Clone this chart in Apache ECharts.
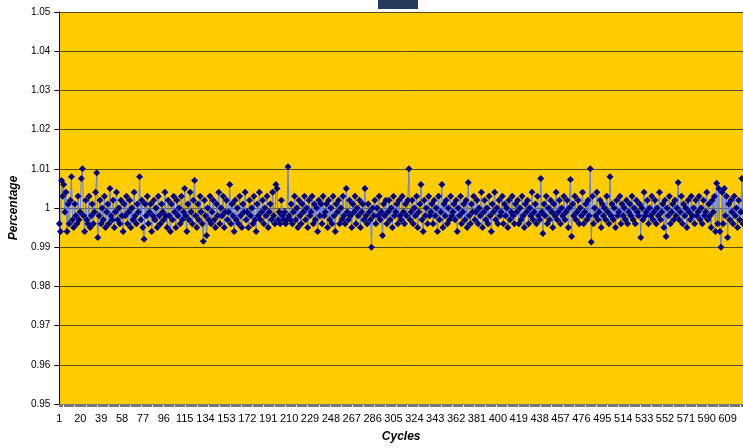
<!DOCTYPE html>
<html>
<head>
<meta charset="utf-8">
<script src="https://cdn.jsdelivr.net/npm/echarts@6/dist/echarts.min.js"></script>
<style>
  html, body { margin: 0; padding: 0; background: #ffffff; }
  #main { width: 743px; height: 448px; }
</style>
</head>
<body>
<div id="main"></div>
<script>
// values, one per cycle
var percentValues = [
  0.996, 0.994, 1.007, 1.003, 1.006, 0.999, 1.004, 0.994, 1.001, 0.996, 1.002, 1.008, 0.997, 0.995, 1.001, 0.998, 0.996, 1.003, 0.997, 0.999,
  1.0075, 1.010, 0.998, 0.994, 1.002, 0.997, 0.996, 1.003, 0.995, 0.998, 1.001, 0.996, 0.999, 1.004, 1.009, 0.9925, 0.998, 1.002, 0.996, 1.000,
  0.997, 1.003, 0.995, 0.999, 1.001, 0.996, 1.005, 0.998, 0.997, 1.002, 0.995, 0.999, 1.004, 0.997, 1.000, 0.996, 1.002, 0.998, 0.994, 1.001,
  0.998, 1.003, 0.996, 0.999, 1.002, 0.995, 1.000, 0.997, 1.004, 0.998, 0.996, 1.001, 0.999, 1.008, 0.997, 1.002, 0.995, 0.992, 1.001, 0.998,
  1.003, 0.996, 0.999, 1.001, 0.994, 0.998, 1.002, 0.997, 1.000, 0.995, 1.003, 0.998, 0.996, 1.001, 0.999, 0.997, 1.004, 0.998, 0.995, 1.002,
  0.998, 0.994, 1.001, 0.997, 1.003, 0.999, 0.995, 1.002, 0.998, 1.000, 0.996, 1.003, 0.997, 0.999, 1.005, 0.998, 0.994, 1.001, 0.997, 1.004,
  0.999, 0.996, 1.002, 1.007, 0.998, 0.995, 1.001, 0.997, 1.003, 0.999, 0.996, 0.9915, 1.002, 0.998, 0.993, 1.000, 0.997, 1.003, 0.996, 0.999,
  1.002, 0.997, 0.995, 1.001, 0.998, 1.004, 0.996, 1.000, 0.998, 1.003, 0.995, 0.999, 1.002, 0.997, 0.999, 1.006, 0.996, 1.001, 0.998, 0.994,
  1.002, 0.997, 1.000, 0.996, 1.003, 0.998, 0.995, 1.001, 0.999, 1.004, 0.997, 0.999, 0.995, 1.002, 0.998, 1.000, 0.996, 1.003, 0.997, 0.994,
  1.001, 0.998, 1.004, 0.997, 0.999, 1.002, 0.996, 1.000, 0.998, 1.003, 0.995, 0.999, 1.001, 0.997, 1.004, 0.998, 0.996, 1.006, 1.005, 0.997,
  0.999, 0.996, 1.002, 0.998, 0.997, 0.999, 0.996, 0.997, 1.0105, 0.998, 0.997, 1.001, 0.996, 0.999, 1.003, 0.997, 1.000, 0.995, 1.002, 0.998,
  0.996, 1.001, 0.999, 1.003, 0.997, 1.000, 0.995, 1.002, 0.998, 0.999, 1.003, 0.996, 1.001, 0.997, 1.000, 0.994, 1.002, 0.998, 1.001, 0.996,
  1.003, 0.998, 0.999, 1.001, 0.995, 1.002, 0.997, 1.000, 0.996, 1.003, 0.998, 0.994, 1.001, 0.999, 1.002, 0.996, 1.000, 0.997, 1.003, 0.998,
  0.996, 1.005, 0.999, 0.997, 1.002, 0.998, 0.995, 1.001, 0.999, 1.003, 0.996, 1.000, 0.998, 1.002, 0.995, 0.999, 1.001, 0.997, 1.005, 0.998,
  0.996, 1.001, 0.999, 0.997, 0.990, 1.000, 0.998, 1.002, 0.996, 1.000, 0.998, 1.003, 0.997, 0.999, 0.993, 1.001, 0.998, 1.002, 0.996, 0.999,
  1.002, 0.997, 1.000, 0.995, 1.003, 0.998, 0.999, 1.001, 0.996, 1.002, 0.998, 0.997, 1.003, 0.999, 0.996, 1.001, 0.998, 1.002, 1.010, 0.997,
  0.999, 1.002, 0.996, 1.000, 0.998, 1.003, 0.995, 0.999, 1.001, 1.006, 0.997, 0.994, 1.002, 0.998, 1.000, 0.996, 1.003, 0.998, 0.999, 1.001,
  0.996, 1.002, 0.998, 1.000, 0.994, 1.003, 0.997, 0.999, 1.006, 0.995, 1.001, 0.998, 1.002, 0.996, 1.000, 0.997, 1.003, 0.998, 0.999, 1.001,
  0.997, 1.002, 0.994, 1.000, 0.998, 1.003, 0.996, 0.999, 1.001, 0.997, 1.002, 0.995, 1.0065, 0.998, 0.996, 1.001, 0.999, 1.003, 0.997, 0.999,
  1.002, 0.996, 1.000, 0.998, 1.004, 0.995, 0.999, 1.002, 0.997, 1.000, 0.996, 1.003, 0.998, 0.994, 1.001, 0.999, 1.004, 0.997, 1.000, 0.996,
  1.002, 0.998, 0.999, 1.003, 0.996, 1.001, 0.998, 1.000, 0.995, 1.002, 0.997, 0.999, 1.003, 0.998, 0.996, 1.001, 0.999, 1.002, 0.996, 1.000,
  0.997, 1.003, 0.998, 0.995, 1.001, 0.999, 1.002, 0.996, 1.000, 0.998, 1.004, 0.997, 0.999, 1.001, 0.996, 1.003, 0.998, 0.997, 1.0075, 0.999,
  0.9935, 1.001, 0.998, 1.003, 0.996, 1.000, 0.997, 1.002, 0.999, 0.995, 1.001, 0.998, 1.004, 0.997, 0.999, 1.002, 0.996, 1.000, 0.998, 1.003,
  0.997, 0.999, 1.002, 0.995, 1.000, 1.0073, 0.9927, 1.001, 0.998, 1.003, 0.997, 0.999, 1.002, 0.996, 1.000, 0.998, 1.004, 0.996, 0.999, 1.001,
  0.997, 1.002, 0.998, 1.010, 0.9913, 1.003, 0.996, 1.000, 0.998, 1.004, 0.997, 0.999, 1.002, 0.995, 1.001, 0.998, 1.000, 0.997, 1.003, 0.999,
  0.996, 1.008, 0.998, 1.001, 0.997, 1.000, 0.995, 1.002, 0.998, 0.999, 1.003, 0.996, 1.001, 0.998, 1.000, 0.997, 1.002, 0.996, 0.999, 1.001,
  0.998, 1.003, 0.997, 1.000, 0.996, 1.002, 0.999, 0.998, 1.001, 0.9925, 1.000, 0.997, 1.004, 0.998, 0.999, 1.002, 0.996, 1.000, 0.998, 1.003,
  0.997, 0.999, 1.002, 0.996, 1.000, 0.998, 1.004, 0.997, 0.999, 1.001, 0.995, 1.002, 0.9927, 1.000, 0.998, 1.003, 0.996, 0.999, 1.001, 0.997,
  1.002, 0.998, 1.000, 1.0065, 0.997, 0.999, 1.003, 0.996, 1.001, 0.998, 1.000, 0.995, 1.002, 0.999, 0.997, 1.003, 0.998, 1.000, 0.996, 1.002,
  0.998, 0.999, 1.003, 0.997, 1.000, 0.996, 1.002, 0.998, 0.999, 1.004, 0.997, 1.001, 0.998, 0.995, 1.002, 0.999, 1.003, 0.994, 1.0063, 0.996,
  1.005, 0.994, 0.990, 1.004, 0.996, 1.005, 0.998, 1.003, 0.9925, 1.001, 0.997, 1.002, 0.999, 0.996, 1.003, 0.998, 1.000, 0.995, 1.002, 0.997,
  0.999, 1.0075, 0.996
];

// cycle numbers on the x axis
var cycleLabels = [];
for (var i = 0; i < percentValues.length; i++) {
  cycleLabels.push(String(i + 1));
}

var yTicks = { min: 0.95, max: 1.05, interval: 0.01 };

var chart = echarts.init(document.getElementById('main'), null, { renderer: 'canvas' });

var option = {
  animation: false,
  backgroundColor: '#ffffff',
  textStyle: { fontFamily: 'Liberation Sans, Arial, sans-serif' },
  grid: {
    left: 57,
    right: 0,
    top: 12,
    bottom: 41,
    show: true,
    backgroundColor: '#ffcc00',
    borderWidth: 0
  },
  graphic: [{
    // cut-off legend box at the top
    type: 'rect',
    left: 378,
    top: 0,
    shape: { width: 40, height: 9 },
    style: { fill: '#243b5e' }
  }],
  xAxis: {
    type: 'category',
    data: cycleLabels,
    boundaryGap: false,
    name: 'Cycles',
    nameLocation: 'middle',
    nameGap: 27,
    nameTextStyle: { fontSize: 12, fontWeight: 'bold', fontStyle: 'italic', color: '#000' },
    axisLine: { lineStyle: { color: '#888', width: 1 } },
    axisTick: { show: true, interval: 0, length: 3, lineStyle: { color: '#777' } },
    axisLabel: { interval: 18, fontSize: 11, color: '#000', margin: 9 },
    splitLine: { show: false }
  },
  yAxis: {
    type: 'value',
    min: yTicks.min,
    max: yTicks.max,
    interval: yTicks.interval,
    name: 'Percentage',
    nameLocation: 'middle',
    nameGap: 37,
    nameTextStyle: { fontSize: 12, fontWeight: 'bold', fontStyle: 'italic', color: '#000' },
    axisLine: { show: true, lineStyle: { color: '#000', width: 1 } },
    axisTick: { show: true, length: 5, lineStyle: { color: '#000' } },
    axisLabel: { fontSize: 10, color: '#000', margin: 9 },
    splitLine: { show: true, lineStyle: { color: '#5c4a1a', width: 1 } }
  },
  series: [{
    name: 'Percentage',
    type: 'line',
    data: percentValues,
    symbol: 'diamond',
    symbolSize: 7,
    showAllSymbol: true,
    lineStyle: { color: '#5f7ff0', width: 1 },
    itemStyle: { color: '#000080' }
  }]
};

chart.setOption(option);
</script>
</body>
</html>
